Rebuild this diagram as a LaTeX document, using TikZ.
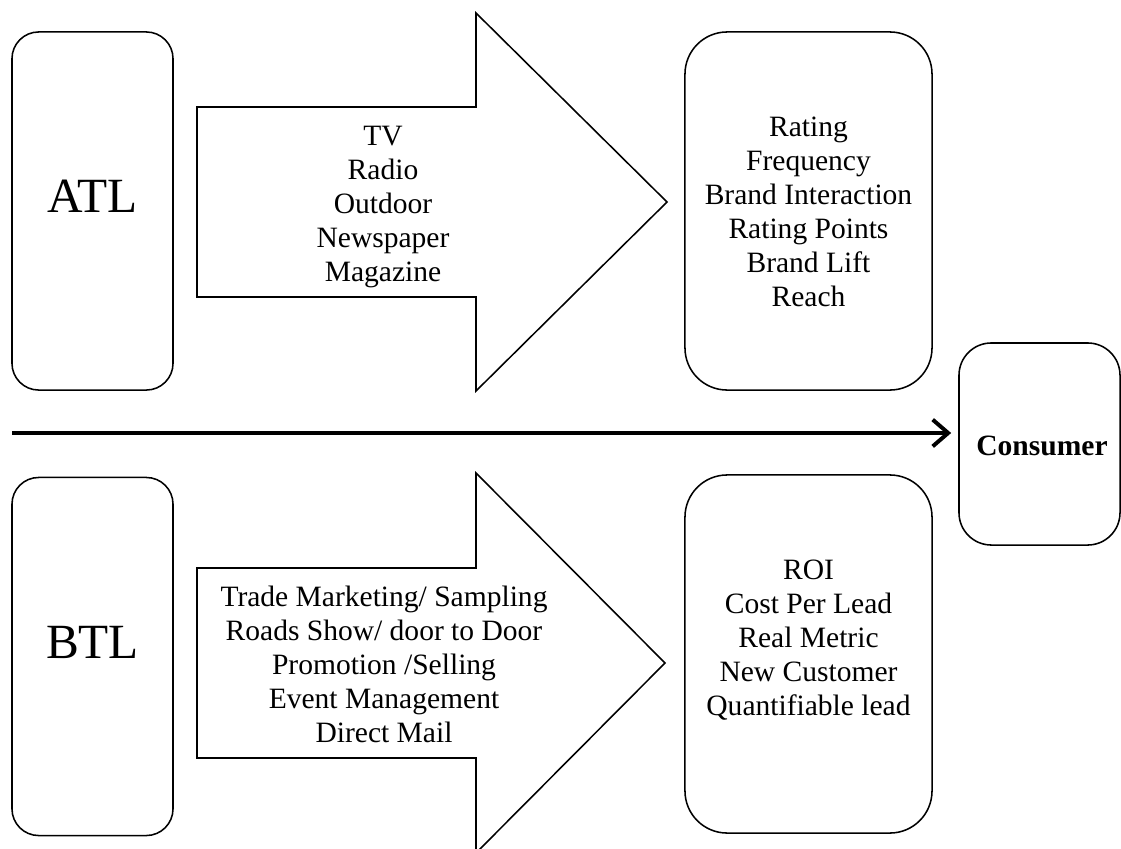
\documentclass[tikz,border=0pt]{standalone}
\usepackage{fontspec}
\setmainfont{Liberation Serif}
\usetikzlibrary{arrows.meta,positioning}

\begin{document}
\begin{tikzpicture}[x=0.025cm,y=-0.025cm,
  sidebox/.style={draw=black,line width=1.1pt,rounded corners=19pt,minimum width=4.025cm,minimum height=8.95cm,inner sep=0pt},
  metricbox/.style={draw=black,line width=1.1pt,rounded corners=30pt,minimum width=6.175cm,minimum height=8.95cm,inner sep=0pt},
  consumerbox/.style={draw=black,line width=1.1pt,rounded corners=23pt,minimum width=4.025cm,minimum height=5.05cm,inner sep=0pt},
  bigarrow/.style={draw=black,line width=1.1pt,line join=miter},
  tiertext/.style={font=\fontsize{35}{40}\selectfont},
  listtext/.style={font=\fontsize{21}{24.2}\selectfont,align=center,inner sep=0pt},
  flowline/.style={line width=2.8pt,-{Straight Barb[length=11pt,width=19pt]}}
]
\useasboundingbox (0,0) rectangle (1121,849);
\fill[white] (0,0) rectangle (1121,849);
\node[sidebox] (atl) at (92.5,211) {};
\node[tiertext] (atllabel) at (92.5,196) {ATL};
\draw[bigarrow] (197,107) -- (476,107) -- (476,13) -- (667,202) -- (476,391) -- (476,297) -- (197,297) -- cycle;
\node[listtext] (atlmedia) at (383,207) {TV\\Radio\\Outdoor\\Newspaper\\Magazine};
\node[metricbox] (atlmetric) at (808.5,211) {};
\node[listtext] (atlkpi) at (808.5,212) {Rating\\Frequency\\Brand Interaction\\Rating Points\\Brand Lift\\Reach};
\node[consumerbox] (consumer) at (1039.5,444) {};
\node[font=\fontsize{21}{25}\selectfont\bfseries] (consumerlabel) at (1042,446) {Consumer};
\coordinate (flowstart) at (12,433);
\draw[flowline,shorten >=5pt] (flowstart) -- (flowstart -| consumer.west);
\node[sidebox] (btl) at (92.5,656.5) {};
\node[tiertext] (btllabel) at (92.5,642) {BTL};
\draw[bigarrow] (197,568) -- (476,568) -- (476,473) -- (665,663) -- (476,853) -- (476,758) -- (197,758) -- cycle;
\node[listtext] (btlmedia) at (384,664.5) {Trade Marketing/ Sampling\\Roads Show/ door to Door\\Promotion /Selling\\Event Management\\Direct Mail};
\node[metricbox] (btlmetric) at (808.5,654) {};
\node[listtext] (btlkpi) at (808.5,640) {ROI\\Cost Per Lead\\Real Metric\\New Customer\\Quantifiable lead};
\end{tikzpicture}
\end{document}
